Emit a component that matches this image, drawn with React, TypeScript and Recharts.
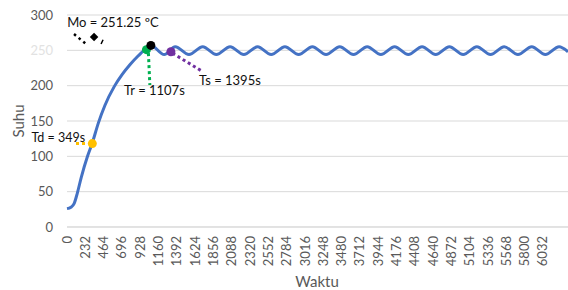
import React from 'react';
import { LineChart, Line, XAxis, YAxis, CartesianGrid, ReferenceDot, ReferenceLine } from 'recharts';

const FONT = 'Lato, "Open Sans", sans-serif';

// Time (s) and temperature (°C)
const times = [
  0, 50, 90, 131, 180, 260, 321, 397, 480, 600, 700, 800, 900, 956, 1010, 1063, 1232,
  1372, 1546, 1720, 1893, 2067, 2241, 2415, 2588, 2762, 2936, 3110, 3283, 3457, 3631,
  3805, 3978, 4152, 4326, 4500, 4673, 4847, 5021, 5195, 5368, 5542, 5716, 5890, 6063,
  6237, 6350,
];
const temps = [
  26, 28, 33, 48, 70, 100, 119, 147, 172, 199, 216, 230, 242, 248, 254, 257, 244,
  255, 244, 255, 244, 255, 244, 255, 244, 255, 244, 255, 244, 255, 244,
  255, 244, 255, 244, 255, 244, 255, 244, 255, 244, 255, 244, 255, 244,
  255, 248,
];
const xTicks = [
  0, 232, 464, 696, 928, 1160, 1392, 1624, 1856, 2088, 2320, 2552, 2784, 3016, 3248,
  3480, 3712, 3944, 4176, 4408, 4640, 4872, 5104, 5336, 5568, 5800, 6032,
];
const yTicks = [0, 50, 100, 150, 200, 250, 300];

// Annotation points (time, temperature)
const tdPoint = { t: 321, v: 118, text: 'Td = 349s' };
const trPoint = { t: 1007, v: 251, text: 'Tr = 1107s' };
const moPoint = { t: 1063, v: 257, text: 'Mo = 251.25 ºC' };
const tsPoint = { t: 1317, v: 248, text: 'Ts = 1395s' };

const tdLine = [{ t: 114, v: 118 }, { t: 254, v: 118 }];
const trLine = [{ t: 1032, v: 246 }, { t: 1050, v: 201 }];
const tsLine = [{ t: 1337, v: 246 }, { t: 1718, v: 220 }];
const moLine = [{ t: 89, v: 273 }, { t: 241, v: 259 }];
const moSlash = [{ t: 432, v: 259 }, { t: 457, v: 265 }];
const moDiamond = { t: 343, v: 269 };

const data = times.map((t, i) => ({ t, v: temps[i] }));

const YTick = (props: any) => {
  const { x, y, payload } = props;
  const faint = payload.value === 250;
  return (
    <text x={x} y={y} dy="0.35em" textAnchor="end" fill={faint ? '#e2e2e2' : '#595959'} fontSize={13} fontFamily={FONT}>
      {payload.value}
    </text>
  );
};

const XTick = (props: any) => {
  const { x, y, payload } = props;
  return (
    <text x={x} y={y} dy="0.35em" transform={`rotate(-90, ${x}, ${y})`} textAnchor="end" fill="#595959" fontSize={13} fontFamily={FONT}>
      {payload.value}
    </text>
  );
};

const annot = (color: string, text: string, dx: number, dy: number, fs = 13) => (p: any) => (
  <g>
    <circle cx={p.cx} cy={p.cy} r={4.5} fill={color} />
    <text x={p.cx + dx} y={p.cy + dy} dy="0.35em" textAnchor="middle" fill="#111" fontSize={fs} fontFamily={FONT}>
      {text}
    </text>
  </g>
);

const diamond = (p: any) => (
  <rect x={p.cx - 3} y={p.cy - 3} width={6} height={6} fill="#000" transform={`rotate(45, ${p.cx}, ${p.cy})`} />
);

const seg = (pts: { t: number; v: number }[]) => pts.map((p) => ({ x: p.t, y: p.v }));

export default function App() {
  return (
    <div style={{ position: 'absolute', left: 0, top: 0 }}>
      <LineChart width={568} height={290} data={data} margin={{ top: 15, right: 0, bottom: 0, left: 0 }}>
        <CartesianGrid vertical={false} stroke="#d9d9d9" />
        <XAxis
          dataKey="t"
          type="number"
          domain={[0, 6350]}
          ticks={xTicks}
          interval={0}
          height={63}
          tickSize={0}
          tickMargin={9}
          axisLine={{ stroke: '#d9d9d9' }}
          tickLine={false}
          tick={<XTick />}
          label={(lp: any) => (
            <text x={317} y={282} dy="0.35em" textAnchor="middle" fill="#595959" fontSize={15} fontFamily={FONT}>
              Waktu
            </text>
          )}
        />
        <YAxis
          type="number"
          domain={[0, 300]}
          ticks={yTicks}
          width={67}
          tickSize={0}
          tickMargin={14}
          axisLine={false}
          tickLine={false}
          tick={<YTick />}
          label={(lp: any) => (
            <text x={19} y={121} dy="0.35em" transform="rotate(-90, 19, 121)" textAnchor="middle" fill="#595959" fontSize={15} fontFamily={FONT}>
              Suhu
            </text>
          )}
        />
        <Line type="monotone" dataKey="v" stroke="#4472c4" strokeWidth={3} dot={false} isAnimationActive={false} />
        <ReferenceLine segment={seg(moLine)} stroke="#000" strokeWidth={2.5} strokeDasharray="2.5 3.5" />
        <ReferenceLine segment={seg(moSlash)} stroke="#000" strokeWidth={1.5} />
        <ReferenceDot x={moDiamond.t} y={moDiamond.v} r={3} shape={diamond} />
        <ReferenceLine segment={seg(tdLine)} stroke="#ffc000" strokeWidth={3} strokeDasharray="3 3" />
        <ReferenceLine segment={seg(trLine)} stroke="#00b050" strokeWidth={3} strokeDasharray="3 3" />
        <ReferenceLine segment={seg(tsLine)} stroke="#7030a0" strokeWidth={3} strokeDasharray="3 3" />
        <ReferenceDot x={tdPoint.t} y={tdPoint.v} r={4.5} shape={annot('#ffc000', tdPoint.text, -34, -6, 12.5)} />
        <ReferenceDot x={trPoint.t} y={trPoint.v} r={4.5} shape={annot('#00b050', trPoint.text, 8, 41)} />
        <ReferenceDot x={moPoint.t} y={moPoint.v} r={4.5} shape={annot('#000000', moPoint.text, -38, -23)} />
        <ReferenceDot x={tsPoint.t} y={tsPoint.v} r={4.5} shape={annot('#7030a0', tsPoint.text, 59, 29)} />
      </LineChart>
    </div>
  );
}
